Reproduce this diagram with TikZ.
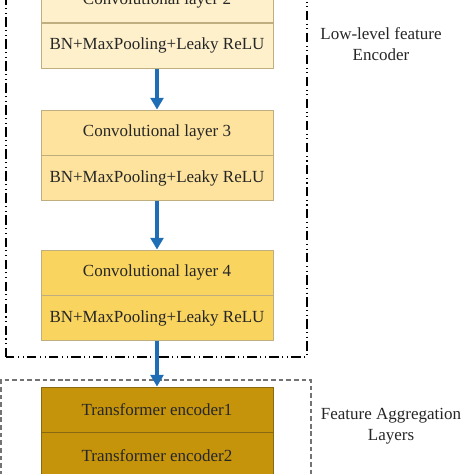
\documentclass[tikz,border=0pt]{standalone}
\usepackage{fontspec}
\setmainfont{Liberation Serif}
\usetikzlibrary{arrows.meta,positioning}
\definecolor{layerlight}{HTML}{FDF0CB}
\definecolor{layermid}{HTML}{FDE39D}
\definecolor{layerdeep}{HTML}{F9D45E}
\definecolor{layergold}{HTML}{C5940B}
\definecolor{layerline}{HTML}{BFAE80}
\definecolor{goldline}{HTML}{8A6A10}
\definecolor{arrowblue}{HTML}{1F6DB5}
\definecolor{textdark}{HTML}{262626}
\tikzset{
    mylayer/.style={draw=layerline,line width=0.8pt,minimum width=6.96cm,
      minimum height=1.35cm,inner sep=0pt,text=textdark,
      font=\fontsize{14.5}{17}\selectfont},
    myarrow/.style={draw=arrowblue,line width=2.6pt,
      -{Triangle[length=10pt,width=11pt]}},
    myencbox/.style={draw=black,line width=1.3pt,
      dash pattern=on 8pt off 3pt on 0.9pt off 3pt on 0.9pt off 3pt},
    myaggbox/.style={draw=black!55,line width=0.9pt,dash pattern=on 4pt off 2.5pt},
    mylabel/.style={align=center,text=textdark,font=\fontsize{14.5}{18}\selectfont}
}

\begin{document}
\begin{tikzpicture}
  \clip (0,0) rectangle (14.22,14.22);
  \useasboundingbox (0,0) rectangle (14.22,14.22);

  % group frames
  \draw[myencbox] (0.18,3.51) rectangle (9.21,15.42);
  \draw[myaggbox] (0.03,-0.5) rectangle (9.33,2.82);

  % convolutional blocks
  \node[mylayer,fill=layerlight] (conv2) at (4.71,14.22) {Convolutional layer 2};
  \node[mylayer,fill=layerlight,below=0pt of conv2] (bn2) {BN+MaxPooling+Leaky ReLU};

  \node[mylayer,fill=layermid] (conv3) at (4.71,10.245) {Convolutional layer 3};
  \node[mylayer,fill=layermid,below=0pt of conv3] (bn3) {BN+MaxPooling+Leaky ReLU};

  \node[mylayer,fill=layerdeep] (conv4) at (4.71,6.045) {Convolutional layer 4};
  \node[mylayer,fill=layerdeep,below=0pt of conv4] (bn4) {BN+MaxPooling+Leaky ReLU};

  % transformer blocks
  \node[mylayer,draw=goldline,fill=layergold] (trans1) at (4.71,1.935) {Transformer encoder1};
  \node[mylayer,draw=goldline,fill=layergold,below=0pt of trans1] (trans2) {Transformer encoder2};

  \draw[myarrow] (bn2.south) -- (conv3.north);
  \draw[myarrow] (bn3.south) -- (conv4.north);
  \draw[myarrow] (bn4.south) -- (trans1.north);

  \node[mylabel] (enclabel) at (11.43,12.9) {Low-level feature\\Encoder};
  \node[mylabel] (agglabel) at (11.73,1.44) {Feature Aggregation\\Layers};
\end{tikzpicture}
\end{document}
